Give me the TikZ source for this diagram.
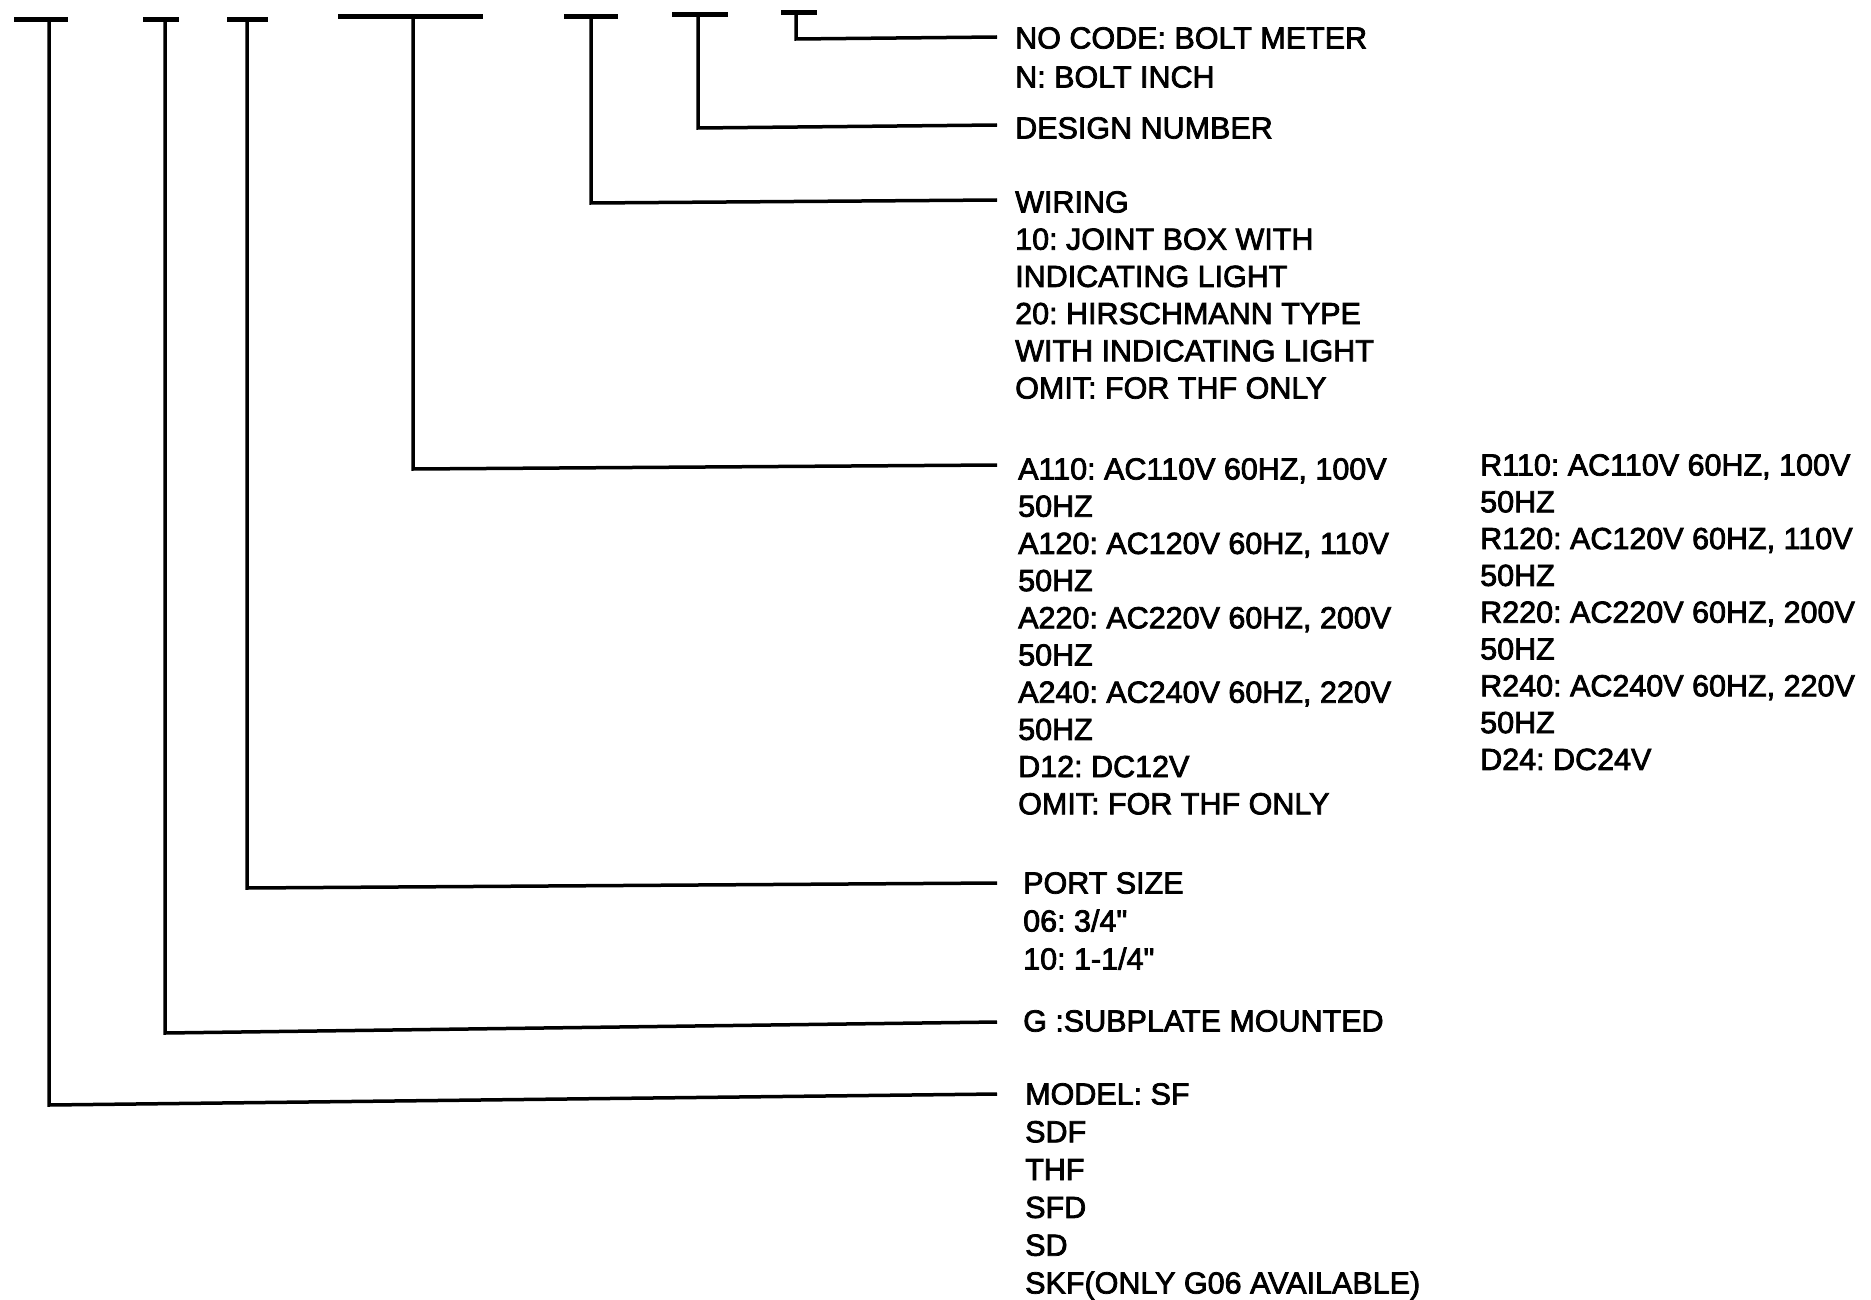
\documentclass[tikz,border=0pt]{standalone}
\usepackage{fontspec}
\newfontfamily\lbf{Liberation Sans}[FakeBold=2.5]
\frenchspacing
\begin{document}
\begin{tikzpicture}[x=1pt,y=-1pt,
  bar/.style={line width=5pt},
  lead/.style={line width=3.5pt, line join=miter},
  lbl/.style={anchor=north west, inner sep=0pt, align=left}]
\useasboundingbox (0,0) rectangle (1871,1300);
% stems: top, corner, end
\coordinate (t1) at (49,20);  \coordinate (c1) at (49,1105); \coordinate (e1) at (997,1094);
\coordinate (t2) at (165,20); \coordinate (c2) at (165,1033); \coordinate (e2) at (997,1022);
\coordinate (t3) at (247,20); \coordinate (c3) at (247,888);  \coordinate (e3) at (997,883);
\coordinate (t4) at (413,17); \coordinate (c4) at (413,469);  \coordinate (e4) at (997,465);
\coordinate (t5) at (591,17); \coordinate (c5) at (591,203);  \coordinate (e5) at (997,200);
\coordinate (t6) at (698,15); \coordinate (c6) at (698,128);  \coordinate (e6) at (997,125);
\coordinate (t7) at (796,13); \coordinate (c7) at (796,39);   \coordinate (e7) at (997,37);
% top bars
\coordinate (bl1) at (14,20);  \coordinate (br1) at (68,20);
\coordinate (bl2) at (143,20); \coordinate (br2) at (179,20);
\coordinate (bl3) at (227,20); \coordinate (br3) at (268,20);
\coordinate (bl4) at (338,17); \coordinate (br4) at (483,17);
\coordinate (bl5) at (564,17); \coordinate (br5) at (618,17);
\coordinate (bl6) at (672,15); \coordinate (br6) at (728,15);
\coordinate (bl7) at (781,13); \coordinate (br7) at (817,13);
\foreach \i in {1,...,7}{
  \draw[bar] (bl\i) -- (br\i);
  \draw[lead] (t\i) -- (c\i) -- (e\i);
}
% labels
\node[lbl, font=\lbf\fontsize{30.5}{39}\selectfont] (bolt) at (1015,27) {NO CODE: BOLT METER\\N: BOLT INCH};
\node[lbl, font=\lbf\fontsize{30.5}{37}\selectfont] (design) at (1015,117) {DESIGN NUMBER};
\node[lbl, font=\lbf\fontsize{30.5}{37.2}\selectfont] (wiring) at (1015,191) {WIRING\\10: JOINT BOX WITH\\INDICATING LIGHT\\20: HIRSCHMANN TYPE\\WITH INDICATING LIGHT\\OMIT: FOR THF ONLY};
\node[lbl, font=\lbf\fontsize{30.5}{37.2}\selectfont] (volta) at (1018,458) {A110: AC110V 60HZ, 100V\\50HZ\\A120: AC120V 60HZ, 110V\\50HZ\\A220: AC220V 60HZ, 200V\\50HZ\\A240: AC240V 60HZ, 220V\\50HZ\\D12: DC12V\\OMIT: FOR THF ONLY};
\node[lbl, font=\lbf\fontsize{30.5}{36.8}\selectfont] (voltr) at (1480,454) {R110: AC110V 60HZ, 100V\\50HZ\\R120: AC120V 60HZ, 110V\\50HZ\\R220: AC220V 60HZ, 200V\\50HZ\\R240: AC240V 60HZ, 220V\\50HZ\\D24: DC24V};
\node[lbl, font=\lbf\fontsize{30.5}{38}\selectfont] (port) at (1023,872) {PORT SIZE\\06: 3/4"\\10: 1-1/4"};
\node[lbl, font=\lbf\fontsize{30.5}{37}\selectfont] (mount) at (1023,1010) {G :SUBPLATE MOUNTED};
\node[lbl, font=\lbf\fontsize{30.5}{37.8}\selectfont] (model) at (1025,1083) {MODEL: SF\\SDF\\THF\\SFD\\SD\\SKF(ONLY G06 AVAILABLE)};
\end{tikzpicture}
\end{document}
